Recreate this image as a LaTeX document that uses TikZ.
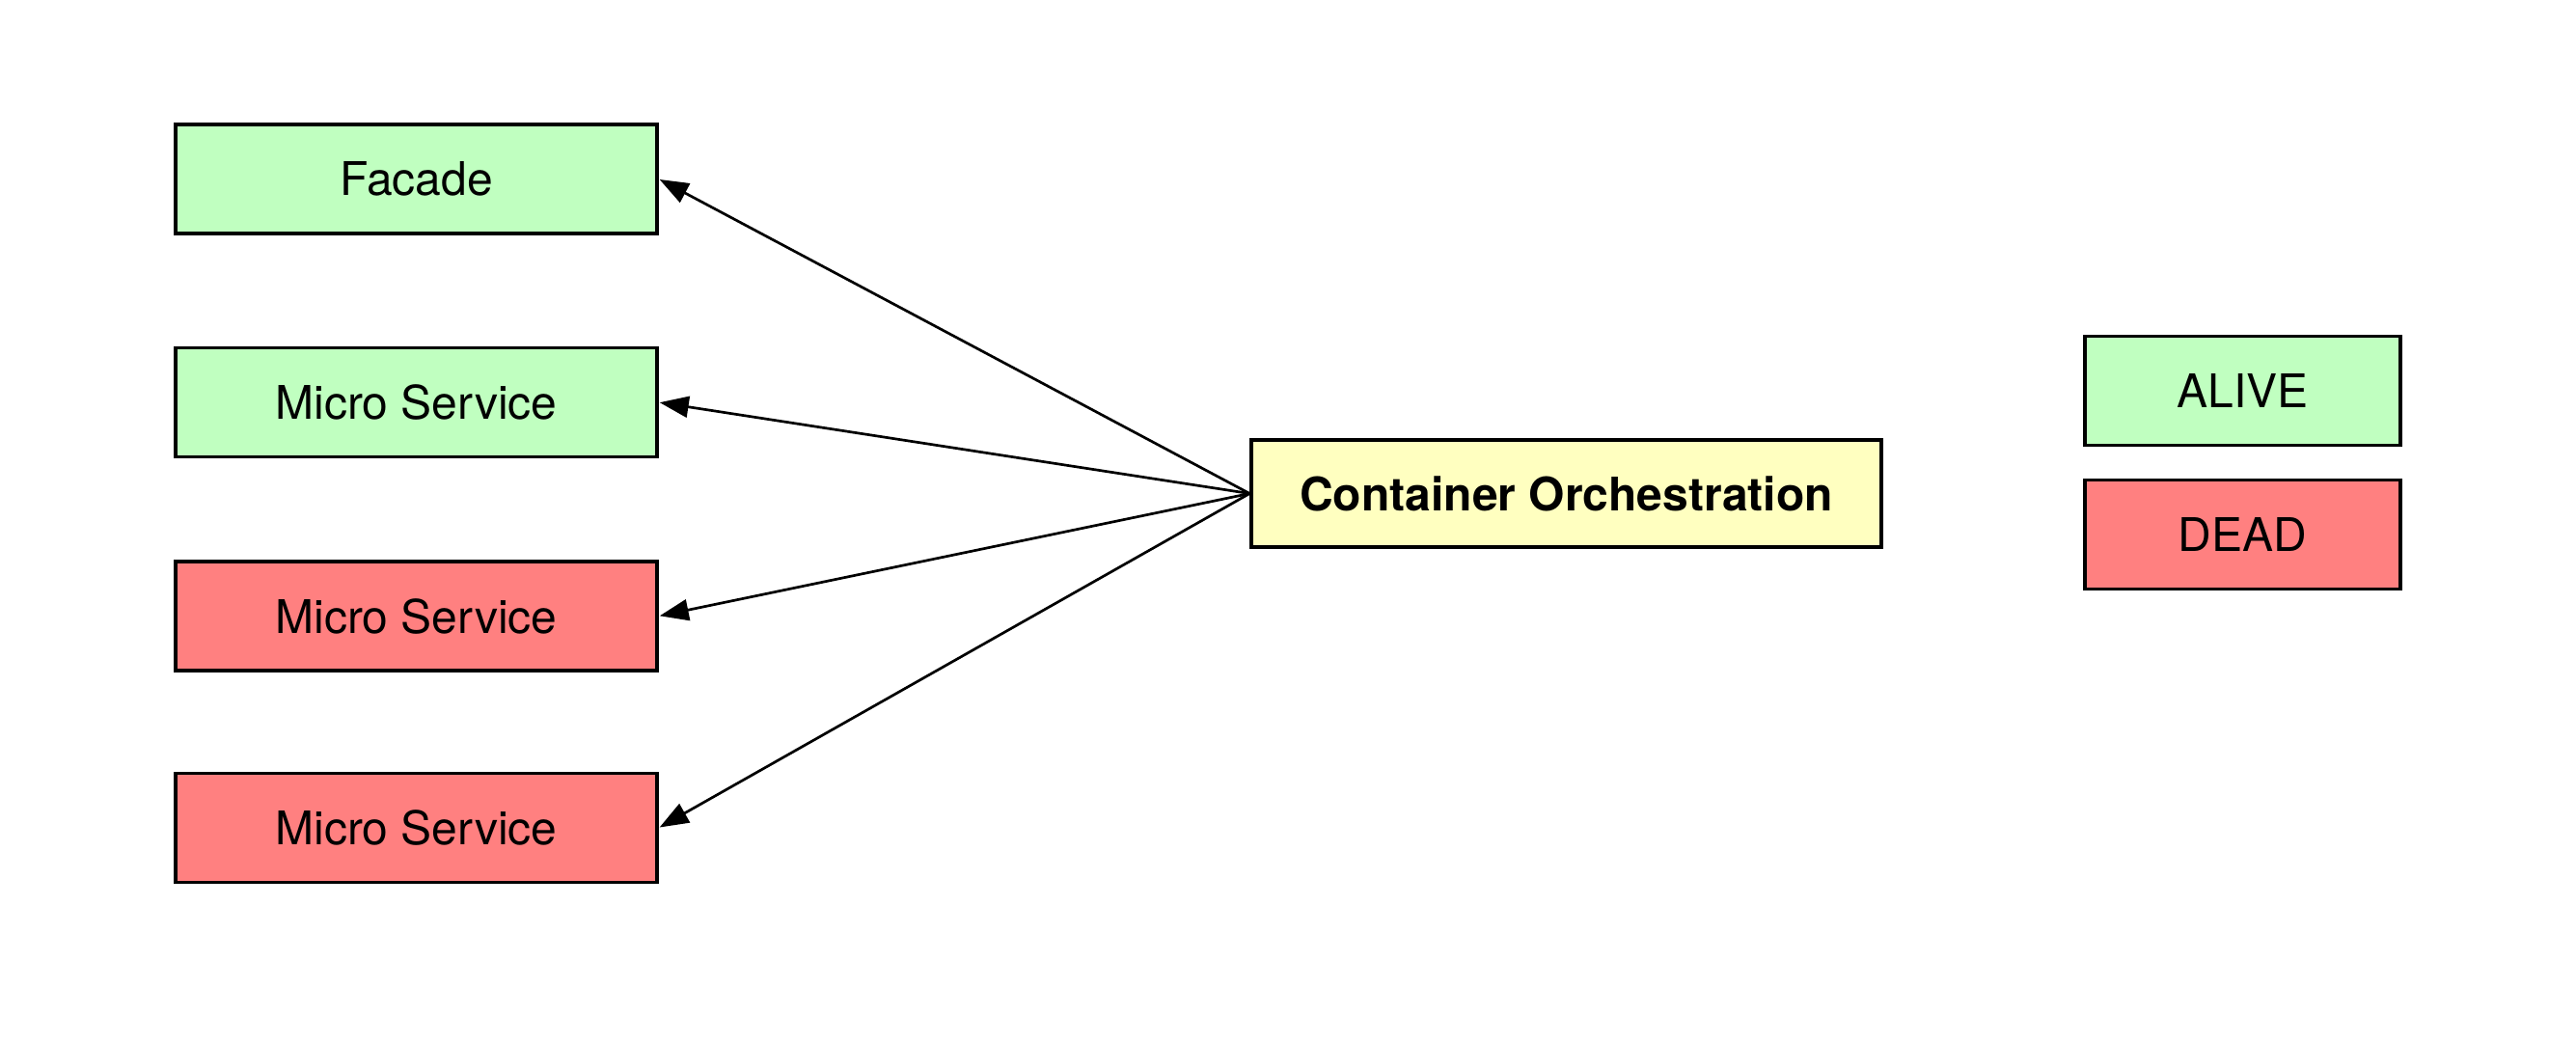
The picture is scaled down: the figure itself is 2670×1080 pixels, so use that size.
\documentclass[tikz,border=0pt]{standalone}
\usepackage{fontspec}
\setmainfont{TeX Gyre Heros}
\usetikzlibrary{arrows.meta}
\definecolor{alivegreen}{RGB}{192,255,192}
\definecolor{deadred}{RGB}{255,128,128}
\definecolor{orchyellow}{RGB}{255,255,192}
\tikzset{
  box/.style={draw=black, line width=3.5pt, rectangle, inner sep=0pt, font=\fontsize{48}{56}\selectfont},
  svc/.style={box, minimum width=499pt, minimum height=113pt},
  legend/.style={box, minimum width=327pt, minimum height=113pt},
  alive/.style={fill=alivegreen},
  dead/.style={fill=deadred},
  conn/.style={line width=2.7pt, -{Triangle[length=30pt,width=22pt]}, shorten >=1pt}
}
\begin{document}
\begin{tikzpicture}[x=1pt,y=-1pt]
\useasboundingbox[fill=white] (0,0) rectangle (2670,1080);
\node[svc, alive] (facade) at (431.5,185.5) {Facade};
\node[svc, alive] (ms1) at (431.5,417) {Micro Service};
\node[svc, dead] (ms2) at (431.5,638.5) {Micro Service};
\node[svc, dead] (ms3) at (431.5,858) {Micro Service};
\node[box, fill=orchyellow, minimum width=653pt, minimum height=111pt, font=\fontsize{48}{56}\selectfont\bfseries] (orch) at (1623.5,511.5) {Container Orchestration};
\node[legend, alive] (alivekey) at (2324.5,405) {ALIVE};
\node[legend, dead] (deadkey) at (2324.5,554) {DEAD};
\draw[conn] (orch.west) -- (facade.east);
\draw[conn] (orch.west) -- (ms1.east);
\draw[conn] (orch.west) -- (ms2.east);
\draw[conn] (orch.west) -- (ms3.east);
\end{tikzpicture}
\end{document}
